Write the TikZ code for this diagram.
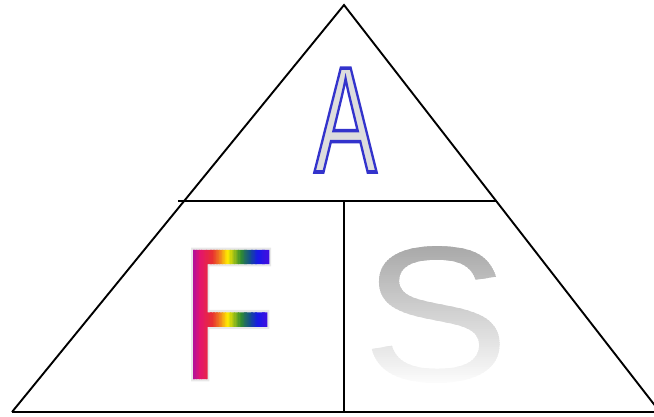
\documentclass[tikz,border=0pt]{standalone}
\usepackage{fontspec}
\setmainfont{Liberation Sans}
\definecolor{Stop}{RGB}{165,165,165}
\definecolor{Sbot}{RGB}{252,252,252}
\definecolor{rbA}{RGB}{170,16,160}
\definecolor{rbB}{RGB}{228,20,110}
\definecolor{rbC}{RGB}{232,48,48}
\definecolor{rbD}{RGB}{240,130,30}
\definecolor{rbE}{RGB}{255,236,0}
\definecolor{rbF}{RGB}{48,140,48}
\definecolor{rbG}{RGB}{20,80,140}
\definecolor{rbH}{RGB}{24,24,232}
\definecolor{rbI}{RGB}{60,16,224}
\newcommand\pdflit[1]{\special{pdf:literal direct #1}}
\newsavebox\Fb
\newsavebox\Sb
% one gradient segment of vertical rules: from colour #1 to colour #2 over width #3
\newcommand\rbseg[3]{\foreach \k in {0,...,9}{\pgfmathsetmacro\pp{\k*10+5}\color{#2!\pp!#1}\vrule width \dimexpr #3/10+0.4pt\relax height 140pt depth 3pt\kern-0.4pt}}
\newcommand\Fletter{%
  \sbox\Fb{F}%
  \pdflit{q 1 Tr 4.5 w 0.91 0.91 0.91 RG}\rlap{F}\pdflit{7 Tr}F\pdflit{0 Tr}%
  \llap{\smash{\hbox to \wd\Fb{%
    \color{rbA}\vrule width 15.42pt height 140pt depth 3pt\kern-0.4pt
    \rbseg{rbA}{rbB}{8.93pt}\rbseg{rbB}{rbC}{15.18pt}\rbseg{rbC}{rbD}{8.93pt}\rbseg{rbD}{rbE}{8.93pt}%
    \rbseg{rbE}{rbF}{16.08pt}\rbseg{rbF}{rbG}{10.72pt}\rbseg{rbG}{rbH}{9.83pt}\rbseg{rbH}{rbI}{10.72pt}%
    \color{rbI}\vrule width \dimexpr\wd\Fb-104.34pt\relax height 140pt depth 3pt\hss}}}%
  \pdflit{Q}}
\newcommand\Sletter{%
  \sbox\Sb{S}%
  \pdflit{q 7 Tr}S\pdflit{0 Tr}%
  \llap{\smash{\hbox to \wd\Sb{%
    \foreach \i in {0,...,74}{\pgfmathsetmacro\yl{-4+2*\i}\pgfmathsetmacro\yh{\yl+2.5}%
      \pgfmathsetmacro\pp{max(0,min(100,100*(\yl+1+2.4)/142.9))}%
      \rlap{\color{Stop!\pp!Sbot}\vrule width \wd\Sb height \yh pt depth -\yl pt}}\hss}}}%
  \pdflit{Q}}
\tikzset{
  edge/.style={draw=black, line width=1.9pt},
  letter/.style={inner sep=0pt}
}
\begin{document}
\begin{tikzpicture}[x=1pt,y=-1pt]
  \useasboundingbox (0,0) rectangle (654,416);
  \clip (0,0) rectangle (654,416);
  \coordinate (apex) at (344,5);
  \coordinate (bl) at (12,412);
  \coordinate (br) at (660,412);
  \coordinate (hl) at (178,201);
  \coordinate (hr) at (496,201);
  \coordinate (vt) at (344,201);
  \coordinate (vb) at (344,412);
  \draw[edge, line join=miter] (bl) -- (apex) -- (br);
  \draw[edge] (bl) -- (br);
  \draw[edge] (hl) -- (hr);
  \draw[edge] (vt) -- (vb);
  % A
  \node[letter, font=\fontsize{151}{151}\selectfont] (A) at (345.5,120)
    {\scalebox{0.62}[1]{\pdflit{q 2 Tr 3.6 w 0.2 0.2 0.8 RG 0.867 0.867 0.867 rg}A\pdflit{0 Tr Q}}};
  % F
  \node[letter, font=\fontsize{188}{188}\selectfont] (F) at (227.9,314.5)
    {\scalebox{0.83}[1]{\Fletter}};
  % S
  \node[letter, font=\fontsize{193}{193}\selectfont] (S) at (435.75,314.5)
    {\scalebox{1.15}[1]{\Sletter}};
\end{tikzpicture}
\end{document}
